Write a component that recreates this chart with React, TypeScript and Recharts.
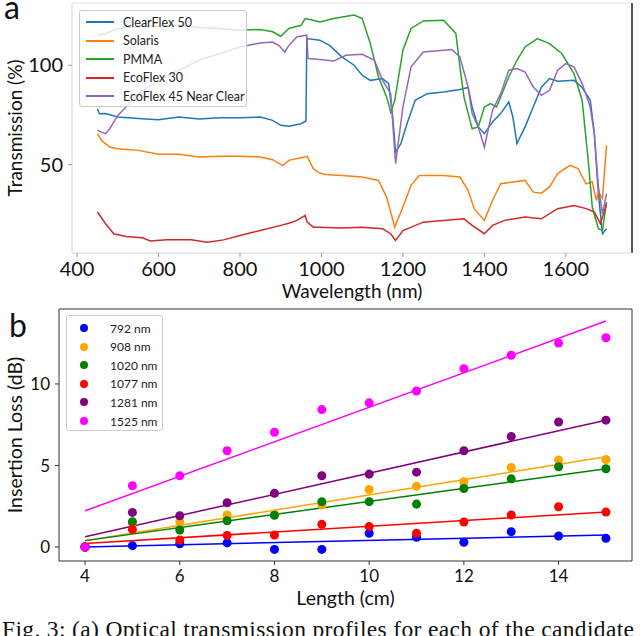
import React from 'react';
import { LineChart, Line, XAxis, YAxis, ReferenceLine, ComposedChart, Scatter, ZAxis } from 'recharts';

// ---------- Panel (a): transmission spectra ----------
const wlTicks = [400, 600, 800, 1000, 1200, 1400, 1600];
const transTicks = [50, 100];
const spectraNames = ['ClearFlex 50', 'Solaris', 'PMMA', 'EcoFlex 30', 'EcoFlex 45 Near Clear'];

const clearFlexNm = [450, 455, 470, 500, 550, 600, 650, 700, 750, 800, 850, 880, 900, 920, 950, 962, 964, 996, 1020, 1050, 1080, 1100, 1120, 1150, 1165, 1175, 1182, 1195, 1210, 1230, 1260, 1300, 1340, 1360, 1370, 1385, 1400, 1420, 1440, 1460, 1470, 1480, 1500, 1520, 1540, 1560, 1580, 1620, 1640, 1660, 1670, 1680, 1690, 1700];
const clearFlexT = [78, 75.6, 75.7, 74, 73.2, 72.6, 74, 73, 73.6, 73.6, 74, 72.3, 69.8, 69.3, 70.6, 72, 113.4, 112.6, 110, 104.2, 100, 95, 92.4, 93.3, 90.8, 74, 56.4, 60.6, 70.6, 82.4, 85.7, 86.6, 87.8, 88.8, 79, 69, 65.6, 71.5, 75.7, 81.5, 74, 60.6, 69, 79, 89, 93.3, 92, 92.4, 88.8, 82.4, 65.6, 35.4, 15.3, 17.8];

const solarisNm = [450, 460, 480, 500, 550, 600, 650, 700, 750, 800, 850, 880, 905, 920, 950, 965, 980, 996, 1010, 1050, 1100, 1140, 1160, 1180, 1200, 1220, 1240, 1300, 1340, 1360, 1375, 1400, 1420, 1440, 1470, 1500, 1520, 1540, 1560, 1580, 1610, 1630, 1650, 1665, 1675, 1680, 1690, 1700];
const solarisT = [65.6, 62.2, 58.9, 58, 57.2, 55.2, 55.2, 53.9, 54.2, 54.2, 53.9, 52.5, 49.5, 52.2, 53.5, 54.2, 48, 45.8, 45.1, 44.6, 43.8, 42.1, 33.7, 18.6, 28.7, 39.6, 44.6, 44.6, 43.8, 37.1, 27.9, 22, 32, 40.4, 41.3, 42.1, 36.2, 35.7, 38.8, 45.5, 49.7, 48, 40.4, 41.3, 32, 36.2, 33, 59.7];

const pmmaNm = [450, 470, 500, 550, 600, 650, 700, 750, 800, 850, 880, 900, 920, 950, 960, 980, 996, 1030, 1080, 1100, 1120, 1140, 1160, 1170, 1180, 1200, 1220, 1250, 1300, 1330, 1340, 1350, 1370, 1385, 1400, 1415, 1430, 1460, 1480, 1500, 1530, 1560, 1590, 1620, 1640, 1655, 1665, 1680, 1690, 1700];
const pmmaT = [115.1, 116, 118.5, 119.3, 119.6, 120.1, 119, 118.5, 117.6, 118, 116.8, 114.6, 118.5, 120.1, 123.5, 122.6, 121.8, 123.5, 125.2, 123.5, 110.9, 94.1, 84, 76.5, 82.4, 107.6, 118.5, 122.3, 122.6, 116, 99.2, 84, 68.1, 69, 79, 80.7, 79, 94.1, 102.5, 109.2, 113.4, 110.9, 105.9, 95.8, 82.4, 52.2, 28.7, 17.8, 16.9, 31.2];

const ecoFlex30Nm = [450, 470, 490, 520, 560, 580, 620, 680, 720, 760, 800, 850, 900, 920, 940, 960, 965, 980, 996, 1050, 1100, 1150, 1170, 1182, 1200, 1250, 1300, 1350, 1370, 1400, 1420, 1450, 1500, 1540, 1580, 1620, 1650, 1670, 1685, 1700];
const ecoFlex30T = [26.2, 20.3, 15.3, 13.9, 13.3, 11.6, 12.2, 12.2, 11, 12.2, 14.4, 16.9, 19.5, 20.6, 22, 24.5, 21.1, 18.6, 18.6, 18.2, 18.6, 17.8, 15.3, 11.9, 16.9, 21.1, 22, 22.8, 19.5, 15.3, 19.5, 22, 23.7, 22.8, 27.9, 29.5, 27.9, 26.2, 20.3, 30.4];

const ecoFlex45Nm = [450, 460, 470, 480, 500, 520, 550, 600, 650, 700, 750, 800, 850, 880, 895, 910, 920, 940, 964, 967, 996, 1030, 1060, 1100, 1130, 1150, 1170, 1182, 1200, 1220, 1250, 1300, 1320, 1340, 1360, 1370, 1385, 1400, 1420, 1440, 1460, 1480, 1500, 1520, 1540, 1560, 1580, 1600, 1620, 1640, 1660, 1670, 1680, 1690, 1700];
const ecoFlex45T = [67.3, 66.4, 65.6, 68.1, 74.8, 79, 85.7, 92.4, 97.5, 102.5, 105.9, 109.2, 111.2, 111.7, 110, 106.7, 110, 114.3, 115.1, 103.4, 102.9, 102.2, 105, 105.5, 102.5, 92.4, 85.7, 50.5, 79, 99.2, 106.7, 107.6, 107.9, 104.2, 89.1, 75.7, 69, 58.9, 77.3, 85.7, 97.5, 98.3, 96.6, 89.1, 84.9, 87.4, 97.5, 100.8, 99.2, 90.8, 79, 65.6, 38.8, 25.3, 35.4];

// ---------- Panel (b): insertion loss ----------
const lengthTicks = [4, 6, 8, 10, 12, 14];
const lossTicks = [0, 5, 10];
const lengthsCm = [4, 5, 6, 7, 8, 9, 10, 11, 12, 13, 14, 15];
const bandNames = ['792 nm', '908 nm', '1020 nm', '1077 nm', '1281 nm', '1525 nm'];
const loss792 = [0, 0.08, 0.2, 0.25, -0.15, -0.15, 0.84, 0.6, 0.29, 0.94, 0.67, 0.53];
const loss908 = [0, 1.45, 1.55, 1.96, 2.0, 2.57, 3.53, 3.73, 4.0, 4.88, 5.33, 5.37];
const loss1020 = [0, 1.55, 1.04, 1.61, 1.94, 2.78, 2.78, 2.63, 3.59, 4.18, 4.92, 4.8];
const loss1077 = [0, 1.08, 0.43, 0.71, 0.73, 1.39, 1.25, 0.84, 1.53, 1.96, 2.47, 2.14];
const loss1281 = [0, 2.12, 1.92, 2.71, 3.29, 4.37, 4.47, 4.59, 5.9, 6.78, 7.67, 7.78];
const loss1525 = [0, 3.76, 4.37, 5.9, 7.04, 8.43, 8.84, 9.57, 10.94, 11.76, 12.51, 12.84];
// linear-fit end values at 4 cm and 15 cm
const fitLengths = [4, 15];
const fit792 = [0.0, 0.73];
const fit908 = [0.39, 5.53];
const fit1020 = [0.39, 4.8];
const fit1077 = [0.22, 2.14];
const fit1281 = [0.63, 7.78];
const fit1525 = [2.22, 13.86];

const spectraColors = ['#1f77b4', '#ff7f0e', '#2ca02c', '#d62728', '#9467bd'];
const bandColors = ['#0000ff', '#ffa500', '#008000', '#ff0000', '#800080', '#ff00ff'];

const toSpec = (xs: number[], ys: number[]) => xs.map((nm, i) => ({ nm, v: ys[i] }));
const toPts = (xs: number[], ys: number[]) => xs.map((x, i) => ({ x, y: ys[i] }));

const spectra = [
  toSpec(clearFlexNm, clearFlexT),
  toSpec(solarisNm, solarisT),
  toSpec(pmmaNm, pmmaT),
  toSpec(ecoFlex30Nm, ecoFlex30T),
  toSpec(ecoFlex45Nm, ecoFlex45T),
];
const lossSeries = [loss792, loss908, loss1020, loss1077, loss1281, loss1525].map((l) => toPts(lengthsCm, l));
const fitSeries = [fit792, fit908, fit1020, fit1077, fit1281, fit1525].map((f) => toPts(fitLengths, f));

const ink = '#111';
const tickFontA = { fill: ink, fontSize: 20 };
const tickFontB = { fill: ink, fontSize: 17 };

export default function App() {
  return (
    <div
      style={{
        position: 'absolute',
        left: 0,
        top: 0,
        width: 640,
        height: 636,
        background: '#fff',
        overflow: 'hidden',
        fontFamily: 'Lato, sans-serif',
      }}
    >
      {/* Panel a */}
      <div style={{ position: 'absolute', left: 0, top: 0 }}>
        <LineChart width={640} height={306} margin={{ top: 3, right: 8, bottom: 0, left: 0 }}>
          <XAxis
            type="number"
            dataKey="nm"
            domain={[387.5, 1762.5]}
            ticks={wlTicks}
            allowDataOverflow
            height={53}
            tickSize={4}
            tickMargin={5}
            stroke="#d4d4d4"
            tickLine={{ stroke: '#999' }}
            tick={tickFontA}
            label={{ value: 'Wavelength (nm)', position: 'insideBottom', offset: 8, fontSize: 19, fill: ink }}
          />
          <YAxis
            type="number"
            domain={[5.6, 131.3]}
            ticks={transTicks}
            allowDataOverflow
            width={72}
            tickSize={4}
            tickMargin={5}
            stroke="#d4d4d4"
            tickLine={{ stroke: '#999' }}
            tick={tickFontA}
            label={{
              value: 'Transmission (%)',
              angle: -90,
              position: 'insideLeft',
              offset: 15,
              fontSize: 19,
              fill: ink,
              style: { textAnchor: 'middle' },
            }}
          />
          <ReferenceLine y={131.3} stroke="#e0e0e0" />
          <ReferenceLine x={1762.5} stroke="#222" strokeWidth={1.5} />
          {spectra.map((d, i) => (
            <Line
              key={spectraNames[i]}
              data={d}
              dataKey="v"
              name={spectraNames[i]}
              type="linear"
              stroke={spectraColors[i]}
              strokeWidth={1.5}
              dot={false}
              isAnimationActive={false}
            />
          ))}
        </LineChart>
        <div
          style={{
            position: 'absolute',
            left: 79,
            top: 10,
            width: 166,
            height: 95,
            border: '1px solid #cccccc',
            borderRadius: 3,
            background: 'rgba(255,255,255,0.8)',
          }}
        >
          {spectraNames.map((n, i) => (
            <div
              key={n}
              style={{ position: 'absolute', left: 0, top: 2 + i * 18.6, height: 18, width: 166, display: 'flex', alignItems: 'center' }}
            >
              <div style={{ marginLeft: 6, width: 28, height: 2, background: spectraColors[i] }} />
              <span style={{ marginLeft: 9, fontSize: 12.5, color: '#222', whiteSpace: 'nowrap' }}>{n}</span>
            </div>
          ))}
        </div>
      </div>

      {/* Panel b */}
      <div style={{ position: 'absolute', left: 0, top: 300 }}>
        <ComposedChart width={640} height={336} margin={{ top: 9, right: 8, bottom: 30, left: 0 }}>
          <XAxis
            type="number"
            dataKey="x"
            domain={[3.45, 15.55]}
            ticks={lengthTicks}
            allowDataOverflow
            height={45}
            tickSize={4}
            tickMargin={5}
            stroke="#333"
            tick={tickFontB}
            label={{ value: 'Length (cm)', position: 'insideBottom', offset: 1, fontSize: 19.5, fill: ink }}
          />
          <YAxis
            type="number"
            dataKey="y"
            domain={[-0.86, 14.6]}
            ticks={lossTicks}
            allowDataOverflow
            width={59}
            tickSize={4}
            tickMargin={5}
            stroke="#333"
            tick={tickFontB}
            label={{
              value: 'Insertion Loss (dB)',
              angle: -90,
              position: 'insideLeft',
              offset: 15,
              fontSize: 19.5,
              fill: ink,
              style: { textAnchor: 'middle' },
            }}
          />
          <ZAxis range={[64, 64]} />
          <ReferenceLine y={14.6} stroke="#333" />
          <ReferenceLine x={15.55} stroke="#333" />
          {lossSeries.map((d, i) => (
            <Scatter
              key={'s' + bandNames[i]}
              data={d}
              name={bandNames[i]}
              fill={bandColors[i]}
              shape="circle"
              isAnimationActive={false}
            />
          ))}
          {fitSeries.map((d, i) => (
            <Line
              key={'f' + bandNames[i]}
              data={d}
              dataKey="y"
              type="linear"
              stroke={bandColors[i]}
              strokeWidth={1.5}
              dot={false}
              legendType="none"
              isAnimationActive={false}
            />
          ))}
        </ComposedChart>
        <div
          style={{
            position: 'absolute',
            left: 66,
            top: 15,
            width: 95,
            height: 114,
            border: '1px solid #cccccc',
            borderRadius: 3,
            background: 'rgba(255,255,255,0.8)',
          }}
        >
          {bandNames.map((n, i) => (
            <div
              key={n}
              style={{ position: 'absolute', left: 0, top: 3 + i * 18.6, height: 18, width: 95, display: 'flex', alignItems: 'center' }}
            >
              <div style={{ marginLeft: 13, width: 8, height: 8, borderRadius: 4, background: bandColors[i] }} />
              <span style={{ marginLeft: 22, fontSize: 12, color: '#222', whiteSpace: 'nowrap' }}>{n}</span>
            </div>
          ))}
        </div>
      </div>

      {/* panel letters and caption */}
      <svg width={640} height={636} style={{ position: 'absolute', left: 0, top: 0, pointerEvents: 'none' }}>
        <text x={4} y={19} fontSize={32} fill={ink} fontFamily="Lato, sans-serif">a</text>
        <text x={9} y={337} fontSize={32} fill={ink} fontFamily="Lato, sans-serif">b</text>
        <text
          x={2}
          y={637}
          fontSize={23.5}
          fill={ink}
          fontFamily="'Liberation Serif', 'Times New Roman', Times, serif"
          textLength={632}
          lengthAdjust="spacing"
        >
          Fig. 3: (a) Optical transmission profiles for each of the candidate
        </text>
      </svg>
    </div>
  );
}
